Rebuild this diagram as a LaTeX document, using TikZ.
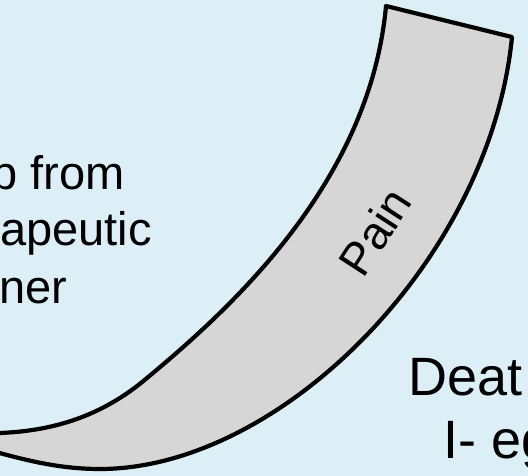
\documentclass[tikz,border=0pt]{standalone}
\usepackage{fontspec}
\setmainfont{Liberation Sans}
\usepackage{tikz}
\definecolor{skyblue}{RGB}{221,239,246}
\definecolor{bandgray}{RGB}{214,214,214}

\begin{document}
\begin{tikzpicture}[
    x=1pt, y=-1pt,
    band/.style={
      draw=black,
      fill=bandgray,
      line width=4.2pt,
      line join=round
    },
    sidetext/.style={
      inner sep=0pt,
      anchor=base west,
      font=\fontsize{47}{56}\selectfont
    },
    endtext/.style={
      inner sep=0pt,
      anchor=base west,
      font=\fontsize{54}{64}\selectfont
    },
    bandtext/.style={
      inner sep=0pt,
      rotate=57,
      font=\fontsize{46}{55}\selectfont
    }
  ]
    \fill[skyblue] (0,0) rectangle (528,476);
    \useasboundingbox (0,0) rectangle (528,476);
    \clip (0,0) rectangle (528,476);

    % curved band
    \filldraw[band] (386,6) -- (512,37)
      .. controls (490,260) and (280,469) .. (100,469)
      .. controls (50,469) and (10,456) .. (-50,439)
      -- (0,433)
      .. controls (50,431) and (100,418) .. (147,378)
      .. controls (235,305) and (370,180) .. (386,6)
      -- cycle;

    \node[bandtext] (pain) at (375,232) {Pain};

    \node[sidetext] (help1) at (-9,190) {p from};
    \node[sidetext] (help2) at (0,245) {apeutic};
    \node[sidetext] (help3) at (-1,303) {ner};

    \node[endtext] (death1) at (408,395) {Deat};
    \node[endtext] (death2) at (443,458) {I- eg};
\end{tikzpicture}
\end{document}
